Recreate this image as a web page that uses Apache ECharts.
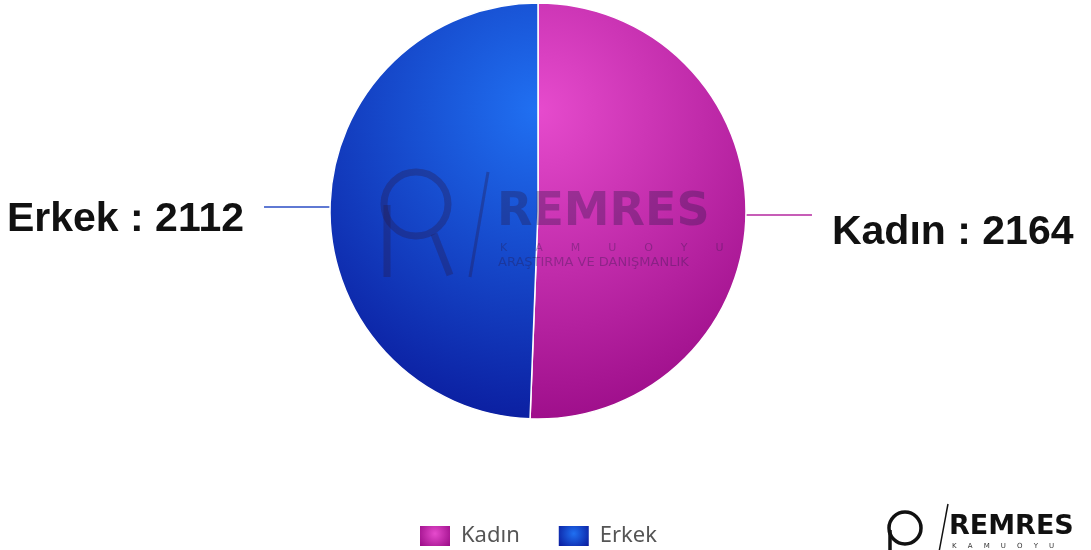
<!DOCTYPE html>
<html>
<head>
<meta charset="utf-8">
<script src="https://cdn.jsdelivr.net/npm/echarts@6/dist/echarts.min.js"></script>
<style>
  html, body { margin: 0; padding: 0; background: #fff; }
  #chart { width: 1091px; height: 550px; }
</style>
</head>
<body>
<div id="chart"></div>
<script>
// data
var categories = ['Kadın', 'Erkek']
var values = [2164, 2112]
var lightColors = ['#e64bcd', '#2070f2']
var darkColors = ['#9a0b87', '#0a1a9c']
var lineColors = ['#b4279f', '#2a4cc4']
// gap above label text so it sits under the label line
var labelDrop = [36, 26]

var chart = echarts.init(document.getElementById('chart'))

function sliceFill(i, global) {
  if (global) {
    return new echarts.graphic.RadialGradient(538, 110, 330, [
      { offset: 0, color: lightColors[i] },
      { offset: 1, color: darkColors[i] }
    ], true)
  }
  return new echarts.graphic.RadialGradient(0.5, 0.4, 0.8, [
    { offset: 0, color: lightColors[i] },
    { offset: 1, color: darkColors[i] }
  ])
}

var pieData = categories.map(function (name, i) {
  return {
    name: name,
    value: values[i],
    itemStyle: { color: sliceFill(i, true) },
    label: { rich: { s: { fontSize: 1, lineHeight: labelDrop[i] } } },
    labelLine: { lineStyle: { color: lineColors[i], width: 1.5 } }
  }
})

var legendData = categories.map(function (name, i) {
  return { name: name, itemStyle: { color: sliceFill(i, false) } }
})

var wmColor = 'rgba(40, 25, 70, 0.33)'

var option = {
  animation: false,
  backgroundColor: '#fff',
  legend: {
    data: legendData,
    left: 413,
    top: 519,
    icon: 'rect',
    itemWidth: 32,
    itemHeight: 22,
    itemGap: 37,
    textStyle: {
      color: '#555',
      fontSize: 22,
      fontFamily: 'Noto Sans',
      padding: [0, 0, 0, 5]
    }
  },
  series: [{
    type: 'pie',
    center: [538, 211],
    radius: 208,
    startAngle: 90,
    clockwise: true,
    data: pieData,
    itemStyle: {
      borderColor: '#fff',
      borderWidth: 1.5
    },
    label: {
      formatter: '{s| }\n{t|{b} : {c}}',
      overflow: 'none',
      distanceToLabelLine: 20,
      rich: {
        s: { fontSize: 1, lineHeight: 26 },
        t: {
          color: '#111',
          fontSize: 41,
          lineHeight: 46,
          fontWeight: 'bold',
          fontFamily: 'Liberation Sans'
        }
      }
    },
    labelLine: {
      show: true,
      length: 0,
      length2: 66,
      smooth: false
    },
    emphasis: { disabled: true }
  }],
  graphic: [
    // watermark in the middle
    { type: 'circle', z: 100, shape: { cx: 416, cy: 204, r: 32 },
      style: { fill: 'none', stroke: wmColor, lineWidth: 7 } },
    { type: 'line', z: 100, shape: { x1: 387, y1: 205, x2: 387, y2: 277 },
      style: { stroke: wmColor, lineWidth: 7 } },
    { type: 'line', z: 100, shape: { x1: 434, y1: 234, x2: 450, y2: 275 },
      style: { stroke: wmColor, lineWidth: 7 } },
    { type: 'line', z: 100, shape: { x1: 488, y1: 172, x2: 470, y2: 277 },
      style: { stroke: wmColor, lineWidth: 3 } },
    { type: 'text', z: 100, left: 497, top: 190,
      style: { text: 'REMRES', fill: wmColor, font: 'bold 46px "DejaVu Sans"' } },
    { type: 'text', z: 100, left: 500, top: 243,
      style: { text: 'K        A        M        U        O        Y        U', fill: wmColor, font: '11px "DejaVu Sans"' } },
    { type: 'text', z: 100, left: 498, top: 256,
      style: { text: 'ARAŞTIRMA VE DANIŞMANLIK', fill: wmColor, font: '13px "DejaVu Sans"' } },

    // logo bottom right
    { type: 'circle', shape: { cx: 905, cy: 528, r: 16 },
      style: { fill: 'none', stroke: '#111', lineWidth: 3.5 } },
    { type: 'line', shape: { x1: 890, y1: 530, x2: 890, y2: 552 },
      style: { stroke: '#111', lineWidth: 3.5 } },
    { type: 'line', shape: { x1: 948, y1: 504, x2: 939, y2: 552 },
      style: { stroke: '#111', lineWidth: 1.5 } },
    { type: 'text', left: 949, top: 513,
      style: { text: 'REMRES', fill: '#111', font: 'bold 27px "DejaVu Sans"' } },
    { type: 'text', left: 952, top: 543,
      style: { text: 'K     A     M     U     O     Y     U', fill: '#333', font: '7px "DejaVu Sans"' } }
  ]
}

chart.setOption(option)
</script>
</body>
</html>
